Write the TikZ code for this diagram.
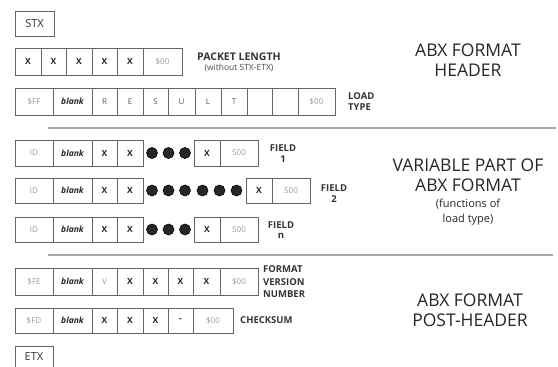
\documentclass[tikz,border=0pt]{standalone}
\usepackage{fontspec}
\setmainfont{Open Sans}
\newcommand{\cellrow}[4]{%
  \foreach \a/\b/\t/\s [count=\i] in {#4} {
    \node[cell, \s, minimum width={(\b-\a)*1pt}, minimum height={(#3-#2)*1pt}]
      (#1-\i) at ({(\a+\b)/2},{(#2+#3)/2}) {\t};
  }}
\begin{document}
\begin{tikzpicture}[x=1pt,y=-1pt,
  cell/.style={draw=black!60, line width=0.8pt, inner sep=0pt, outer sep=0pt, font=\fontsize{8}{9}\selectfont},
  g/.style={text=black!40},
  d/.style={text=black!65},
  k/.style={text=black!85, font=\fontsize{8.5}{9}\selectfont\bfseries},
  bl/.style={text=black!85, font=\fontsize{8.5}{9}\selectfont\bfseries\itshape},
  lbl/.style={font=\fontsize{9.5}{10.5}\selectfont\bfseries, text=black!80, inner sep=0pt},
  title/.style={font=\fontsize{17.5}{20}\selectfont, text=black!85, align=center, inner sep=0pt},
  blob/.style={circle, fill=black!85, draw=black, line width=0.6pt, minimum size=11pt, inner sep=0pt},
  sep/.style={draw=black!35, line width=1.5pt}
]
\useasboundingbox (0,0) rectangle (558,367);
% STX / ETX
\node[cell, text=black!80, font=\fontsize{11}{12}\selectfont, minimum width=39pt, minimum height=25pt] (stx) at (34.5,23.5) {STX};
\node[cell, text=black!80, font=\fontsize{11}{12}\selectfont, minimum width=38pt, minimum height=21pt] (etx) at (34,356.5) {ETX};
% packet length
\cellrow{pl}{48}{75}{15/41/X/k, 41/66/X/k, 66/92/X/k, 92/117/X/k, 117/143/X/k, 143/182/\$00/g}
\node[lbl, anchor=west, font=\fontsize{10.5}{11}\selectfont\bfseries] (plen) at (197,57) {PACKET LENGTH};
\node[lbl, font=\fontsize{8.5}{9}\selectfont, text=black!70] (plen2) at (239,67.5) {(without STX-ETX)};
% load type
\cellrow{lt}{88}{115}{15/53/\$FF/g, 53/92/blank/bl, 92/117/R/d, 117/143/E/d, 143/168/S/d, 168/195/U/d, 195/221/L/d, 221/247/T/d, 247/272//g, 272/298//g, 298/335/\$00/g}
\node[lbl, anchor=west, align=left] (ltype) at (348,101.5) {LOAD\\TYPE};
\node[title] (t1) at (468,60) {ABX FORMAT\\HEADER};
% separator 1
\coordinate (s1a) at (48,128);
\coordinate (s1b) at (556,128);
\draw[sep] (s1a) -- (s1b);
% field 1
\cellrow{fa}{140}{166}{15/53/ID/g, 53/92/blank/bl, 92/117/X/k, 117/143/X/k, 194/220/X/k, 220/258/500/g}
\foreach \x [count=\i] in {152,168.5,185} \node[blob] (fad\i) at (\x,153) {};
\node[lbl, align=center] (f1) at (283,153.5) {FIELD\\1};
% field 2
\cellrow{fb}{178}{203}{15/53/ID/g, 53/92/blank/bl, 92/117/X/k, 117/143/X/k, 246/272/X/k, 272/310/500/g}
\foreach \x [count=\i] in {152,168.5,185,202.5,219.5,236.5} \node[blob] (fbd\i) at (\x,190.5) {};
\node[lbl, align=center] (f2) at (334,193.5) {FIELD\\2};
% field n
\cellrow{fc}{217}{242}{15/53/ID/g, 53/92/blank/bl, 92/117/X/k, 117/143/X/k, 194/220/X/k, 220/258/500/g}
\foreach \x [count=\i] in {152,168.5,185} \node[blob] (fcd\i) at (\x,229.5) {};
\node[lbl, align=center] (fn) at (281,230) {FIELD\\n};
\node[title] (t2) at (468,175) {VARIABLE PART OF\\ABX FORMAT};
\node[title, font=\fontsize{11}{15}\selectfont] (t2b) at (468,212.5) {(functions of\\load type)};
% separator 2
\coordinate (s2a) at (48,255);
\coordinate (s2b) at (553,255);
\draw[sep] (s2a) -- (s2b);
% format version
\cellrow{fv}{268}{295}{15/53/\$FE/g, 53/92/blank/bl, 92/117/V/g, 117/143/X/k, 143/168/X/k, 168/193/X/k, 193/220/X/k, 220/258/\$00/g}
\node[lbl, anchor=west, align=left, font=\fontsize{9.5}{12.5}\selectfont\bfseries] (fver) at (263,282) {FORMAT\\VERSION\\NUMBER};
% checksum
\cellrow{cs}{308}{333}{15/53/\$FD/g, 53/92/blank/bl, 92/117/X/k, 117/143/X/k, 143/168/X/k, 168/193/-/k, 193/233/\$00/g}
\node[lbl, anchor=west] (chk) at (240,320.5) {CHECKSUM};
\node[title] (t3) at (470,310) {ABX FORMAT\\POST-HEADER};
\end{tikzpicture}
\end{document}
